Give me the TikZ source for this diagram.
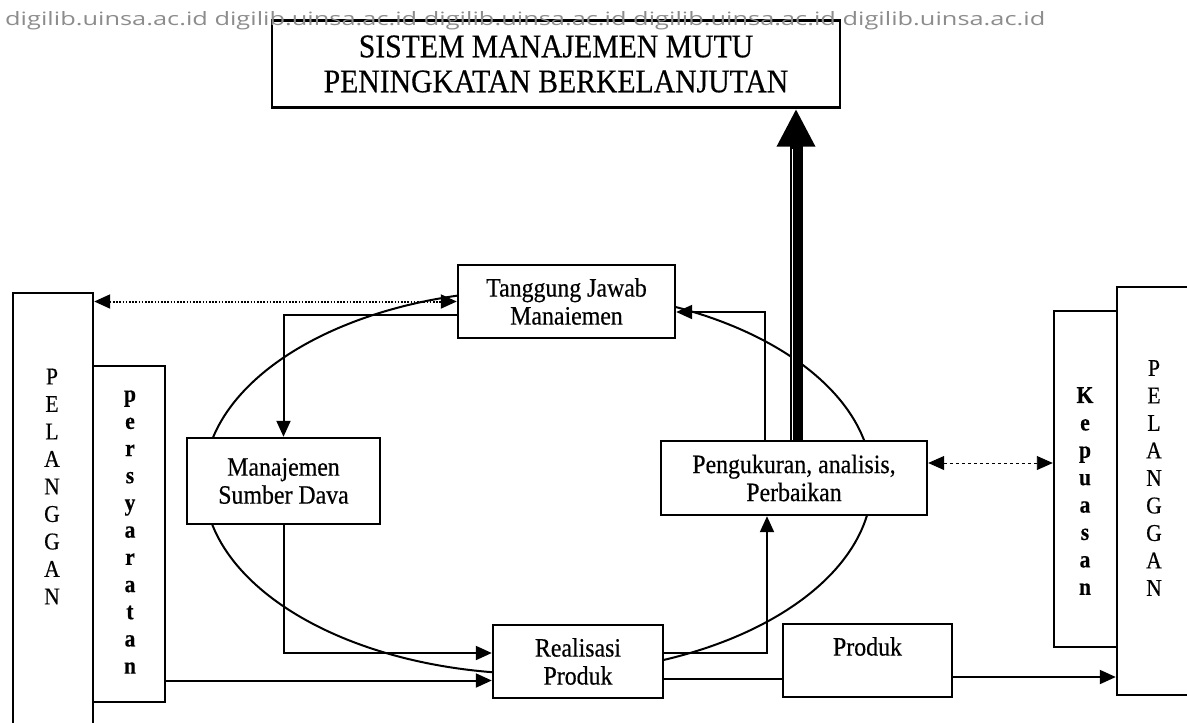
\documentclass[tikz,border=0pt]{standalone}
\usepackage{graphicx}
\usepackage{fontspec}
\setmainfont{Liberation Serif}[FakeStretch=0.9, FakeBold=0.4]
\newfontfamily\wmfont{Open Sans}
\usetikzlibrary{arrows.meta}
\definecolor{wmgray}{RGB}{140,140,140}

\begin{document}
\begin{tikzpicture}[x=1pt, y=-1pt,
    box/.style={draw, line width=2.4pt, fill=white, inner sep=0pt, align=center,
        font=\fontsize{26.5}{28}\selectfont},
    vbox/.style={draw, line width=2.4pt, fill=white, inner sep=0pt},
    vword/.style={align=center, inner sep=0pt, font=\fontsize{24}{27.5}\selectfont},
    tip/.style={line width=2pt, -{Triangle[length=16pt, width=14pt]}},
    dotarrow/.style={line width=2pt, dash pattern=on 1.6pt off 1.6pt,
        {Triangle[length=16pt, width=14pt]}-{Triangle[length=16pt, width=14pt]}},
    dasharrow/.style={line width=0.9pt, dash pattern=on 3pt off 3pt,
        {Triangle[length=16pt, width=14pt]}-{Triangle[length=16pt, width=14pt]}}]
    \useasboundingbox (0,0) rectangle (1187,723);

    % siklus
    \draw[line width=2pt] (538,482) ellipse [x radius=334pt, y radius=192pt];

    \node[box, minimum width=568pt, minimum height=87pt,
        font=\fontsize{33}{35}\selectfont] (judul) at (556,64)
        {SISTEM MANAJEMEN MUTU\\PENINGKATAN BERKELANJUTAN};
    \node[box, minimum width=217pt, minimum height=73pt] (tj) at (566.5,301.5) {Tanggung Jawab\\Manaiemen};
    \node[box, minimum width=193pt, minimum height=86pt] (msd) at (283.5,481) {Manajemen\\Sumber Dava};
    \node[box, minimum width=266pt, minimum height=74pt] (pap) at (794,478) {Pengukuran, analisis,\\Perbaikan};
    \node[box, minimum width=170pt, minimum height=73pt] (rp) at (578,661.5) {Realisasi\\Produk};
    \node[box, minimum width=169pt, minimum height=73pt] (prod) at (867.5,660.5) {Produk\\\phantom{Produk}};

    \node[vbox, minimum width=80pt, minimum height=437pt] (plgL) at (53,511.5) {};
    \node[vbox, minimum width=72pt, minimum height=336pt] (syarat) at (129,534) {};
    \node[vbox, minimum width=63pt, minimum height=336pt] (puas) at (1085.5,479) {};
    \node[vbox, minimum width=78pt, minimum height=408pt] (plgR) at (1156,491) {};

    \node[vword] (wL) at (52,486.5) {P\\E\\L\\A\\N\\G\\G\\A\\N};
    \node[vword, font=\fontsize{24}{27.2}\selectfont\bfseries] (wS) at (130,532) {p\\e\\r\\s\\y\\a\\r\\a\\t\\a\\n};
    \node[vword, font=\fontsize{24}{27.4}\selectfont\bfseries] (wK) at (1085,491) {K\\e\\p\\u\\a\\s\\a\\n};
    \node[vword] (wR) at (1154,478) {P\\E\\L\\A\\N\\G\\G\\A\\N};

    % penghubung
    \draw[dotarrow] (tj.west -| plgL.east) -- (tj.west);
    \draw[tip] ([yshift=-13.5pt]tj.west) -| (msd.north);
    \draw[tip] (msd.south) |- ([yshift=8.5pt]rp.west);
    \coordinate (rpIn) at ([yshift=-19pt]rp.west);
    \draw[tip] (syarat.east |- rpIn) -- (rpIn);
    \draw[tip] ([yshift=8.5pt]rp.east) -| ([xshift=-27pt]pap.south);
    \draw[tip] ([xshift=-29pt]pap.north) |- ([yshift=-10.5pt]tj.east);
    \coordinate (rpOut) at ([yshift=-17pt]rp.east);
    \draw[line width=2pt] (rpOut) -- (rpOut -| prod.west);
    \coordinate (prodOut) at ([yshift=-16.5pt]prod.east);
    \draw[tip] (prodOut) -- (prodOut -| plgR.west);
    \coordinate (papOut) at ([yshift=15pt]pap.east);
    \draw[dasharrow] (papOut) -- (papOut -| puas.west);

    % panah tebal ke atas
    \coordinate (upA) at ([xshift=2pt]pap.north);
    \coordinate (upB) at (upA |- judul.south);
    \draw[line width=13pt, -{Triangle[length=38pt, width=36pt]}] (upA) -- (upB);
    \draw[white, line width=1.6pt] ([xshift=-3.5pt]upA) -- ([xshift=-3.5pt, yshift=-40pt]upB);

    \node[anchor=base west, inner sep=0pt, text=wmgray] (wm) at (5,25)
        {\resizebox{1040pt}{14pt}{\wmfont digilib.uinsa.ac.id digilib.uinsa.ac.id digilib.uinsa.ac.id digilib.uinsa.ac.id digilib.uinsa.ac.id}};
\end{tikzpicture}
\end{document}
